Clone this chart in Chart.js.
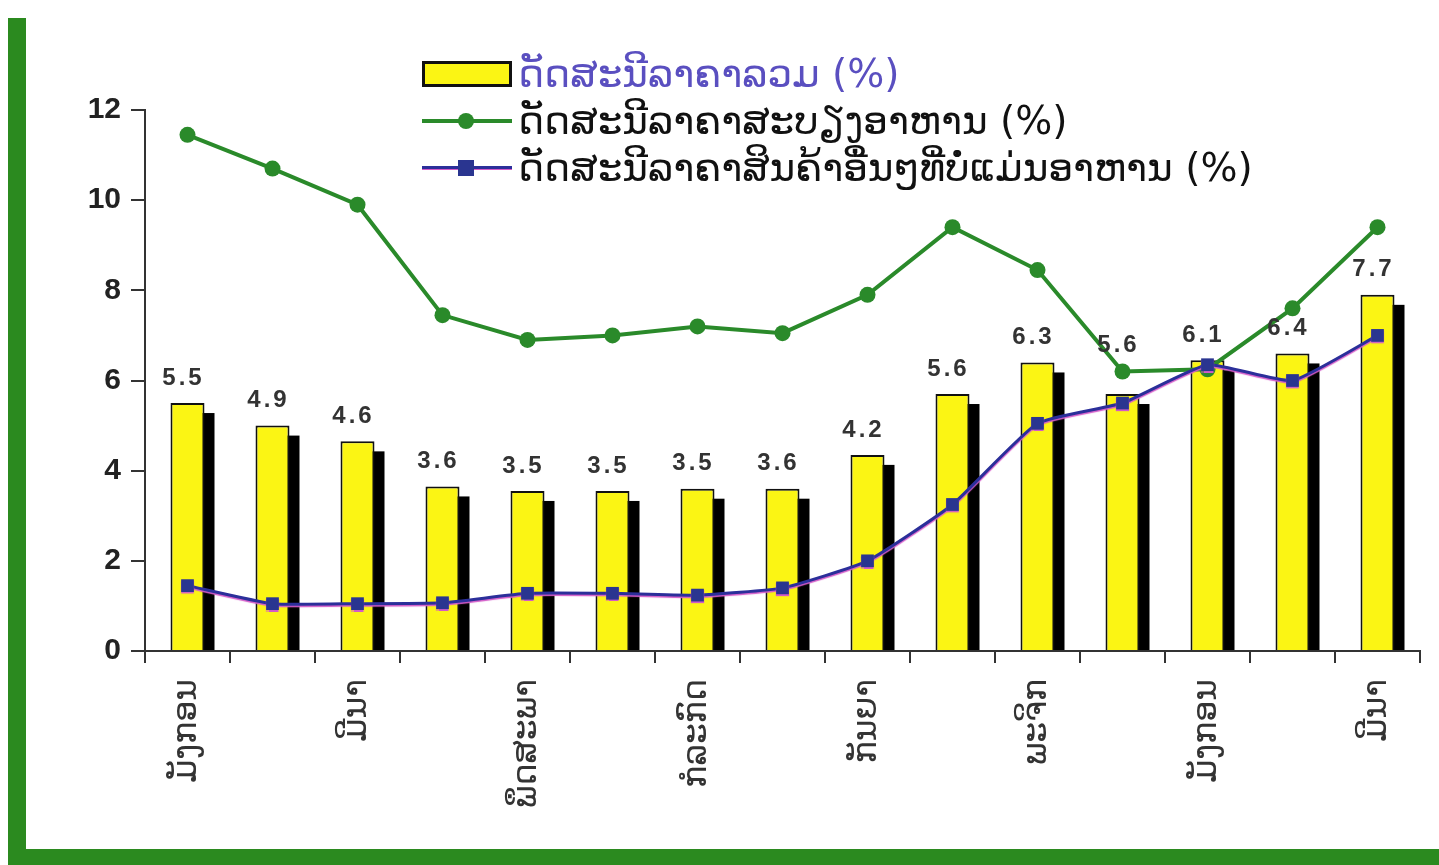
<!DOCTYPE html>
<html>
<head>
<meta charset="utf-8">
<script src="https://cdn.jsdelivr.net/npm/chart.js@4.4.1/dist/chart.umd.min.js"></script>
<style>
  html, body { margin: 0; padding: 0; background: #fff; }
  body { width: 1439px; height: 865px; position: relative; overflow: hidden; }
  #frameLeft { position: absolute; left: 8px; top: 18px; width: 18px; height: 847px; background: #2b8a1f; }
  #frameBottom { position: absolute; left: 8px; top: 849px; width: 1431px; height: 16px; background: #2b8a1f; }
  #chart { position: absolute; left: 0; top: 0; }
  .legend { position: absolute; left: 422px; top: 50px; font-family: "DejaVu Sans", sans-serif; font-size: 39px; color: #111; }
  .legend .row { height: 47px; display: flex; align-items: center; }
  .legend .mark { width: 90px; height: 26px; position: relative; margin-right: 6px; flex: none; }
  .legend .box { box-sizing: border-box; border: 3px solid #111; background: #fbf514; }
  .legend .line::before { content: ""; position: absolute; left: 0; right: 0; top: 11px; height: 4px; }
  .legend .line::after { content: ""; position: absolute; left: 36px; top: 5px; width: 16px; height: 16px; }
  .legend .food::before, .legend .food::after { background: #2a8a2a; }
  .legend .food::after { border-radius: 50%; }
  .legend .nonfood::before { background: #2b2f9a; height: 3px; box-shadow: 0 1px 0 #d35bc8; }
  .legend .nonfood::after { background: #2a3590; }
</style>
</head>
<body>
<div id="frameLeft"></div>
<div id="frameBottom"></div>
<canvas id="chart" width="1439" height="865"></canvas>
<div class="legend" id="legend"></div>
<script>
// months from January to March of the following year
const months = ['ມັງກອນ', 'ກຸມພາ', 'ມີນາ', 'ເມສາ', 'ພຶດສະພາ', 'ມິຖຸນາ', 'ກໍລະກົດ', 'ສິງຫາ', 'ກັນຍາ', 'ຕຸລາ', 'ພະຈິກ', 'ທັນວາ', 'ມັງກອນ', 'ກຸມພາ', 'ມີນາ'];

// headline inflation: bar heights as drawn, and the printed values
const headline = [5.5, 5.0, 4.65, 3.65, 3.55, 3.55, 3.6, 3.6, 4.35, 5.7, 6.4, 5.7, 6.45, 6.6, 7.9];
const headlineLabels = ['5.5', '4.9', '4.6', '3.6', '3.5', '3.5', '3.5', '3.6', '4.2', '5.6', '6.3', '5.6', '6.1', '6.4', '7.7'];

// food and non-food inflation
const food = [11.45, 10.7, 9.9, 7.45, 6.9, 7.0, 7.2, 7.05, 7.9, 9.4, 8.45, 6.2, 6.25, 7.6, 9.4];
const nonFood = [1.45, 1.05, 1.05, 1.07, 1.28, 1.28, 1.24, 1.4, 2.0, 3.25, 5.05, 5.5, 6.35, 6.0, 7.0];

const yTicks = [0, 2, 4, 6, 8, 10, 12];
const seriesNames = ['ດັດສະນີລາຄາລວມ (%)', 'ດັດສະນີລາຄາສະບຽງອາຫານ (%)', 'ດັດສະນີລາຄາສິນຄ້າອື່ນໆທີ່ບໍ່ແມ່ນອາຫານ (%)'];

// legend (html, top of the plot)
const legendEl = document.getElementById('legend');
const markClass = ['box', 'line food', 'line nonfood'];
seriesNames.forEach((name, i) => {
    const row = document.createElement('div');
    row.className = 'row';
    row.innerHTML = `<span class="mark ${markClass[i]}"></span><span style="color:${i === 0 ? '#5a4fc0' : '#111'}">${name}</span>`;
    legendEl.appendChild(row);
});

// black drop shadow behind each bar
const barShadow = {
    id: 'barShadow',
    beforeDatasetDraw(chart, args) {
        if (args.index !== 0) return;
        const ctx = chart.ctx;
        ctx.save();
        ctx.fillStyle = '#000';
        args.meta.data.forEach(el => {
            const off = 10;
            ctx.fillRect(el.x - el.width / 2 + off, el.y + off, el.width, el.base - el.y - off);
        });
        ctx.restore();
    }
};

// pink edge under the non-food line
const lineEdge = {
    id: 'lineEdge',
    beforeDatasetDraw(chart, args) {
        if (args.index !== 2) return;
        chart.ctx.save();
        chart.ctx.shadowColor = '#d35bc8';
        chart.ctx.shadowOffsetY = 1.5;
        chart.ctx.shadowBlur = 1;
    },
    afterDatasetDraw(chart, args) {
        if (args.index !== 2) return;
        chart.ctx.restore();
    }
};

// printed values above bars, lifted over a line point when they would overlap
const barLabels = {
    id: 'barLabels',
    afterDatasetsDraw(chart) {
        const ctx = chart.ctx;
        const bars = chart.getDatasetMeta(0).data;
        const lines = [chart.getDatasetMeta(1).data, chart.getDatasetMeta(2).data];
        ctx.save();
        ctx.font = 'bold 24px "Liberation Sans", Arial, sans-serif';
        ctx.letterSpacing = '3px';
        ctx.fillStyle = '#333';
        ctx.textAlign = 'center';
        ctx.textBaseline = 'bottom';
        bars.forEach((el, i) => {
            let bottom = el.y - 13;
            lines.forEach(pts => {
                const p = pts[i];
                if (p.y > bottom - 26 && p.y < bottom + 8) bottom = p.y - 14;
            });
            ctx.fillText(headlineLabels[i], el.x - 4, bottom);
        });
        ctx.restore();
    }
};

new Chart(document.getElementById('chart'), {
    data: {
        labels: months,
        datasets: [
            {
                type: 'bar',
                label: seriesNames[0],
                data: headline,
                backgroundColor: '#fbf514',
                borderColor: '#111',
                borderWidth: 2,
                barPercentage: 0.4,
                categoryPercentage: 1,
                order: 2
            },
            {
                type: 'line',
                label: seriesNames[1],
                data: food,
                borderColor: '#2a8a2a',
                backgroundColor: '#2a8a2a',
                borderWidth: 4,
                pointRadius: 8,
                pointBorderWidth: 0,
                tension: 0,
                order: 1
            },
            {
                type: 'line',
                label: seriesNames[2],
                data: nonFood,
                borderColor: '#2b2f9a',
                backgroundColor: '#2a3590',
                borderWidth: 3,
                pointStyle: 'rect',
                pointRadius: 9,
                pointBorderWidth: 0,
                tension: 0.15,
                order: 0
            }
        ]
    },
    options: {
        responsive: false,
        animation: false,
        layout: { padding: { top: 110, right: 19, left: 0, bottom: 0 } },
        plugins: { legend: { display: false }, tooltip: { enabled: false } },
        scales: {
            x: {
                grid: { drawOnChartArea: false, tickLength: 12, color: '#333', lineWidth: 2, offset: true },
                border: { color: '#333', width: 2 },
                ticks: {
                    autoSkip: false, maxRotation: 90, minRotation: 90, padding: 16,
                    color: '#333', font: { family: 'DejaVu Sans', size: 33 },
                    callback: (v, i) => (i % 2 === 0 ? months[i] : '')
                },
                afterFit: s => { s.height = 214; }
            },
            y: {
                min: yTicks[0],
                max: yTicks[yTicks.length - 1],
                ticks: {
                    stepSize: yTicks[1] - yTicks[0], padding: 10,
                    color: '#222', font: { family: 'Liberation Sans', weight: 'bold', size: 30 }
                },
                grid: { drawOnChartArea: false, tickLength: 14, color: '#333', lineWidth: 2 },
                border: { color: '#333', width: 2 },
                afterFit: s => { s.width = 145; }
            }
        }
    },
    plugins: [barShadow, lineEdge, barLabels]
});
</script>
</body>
</html>
